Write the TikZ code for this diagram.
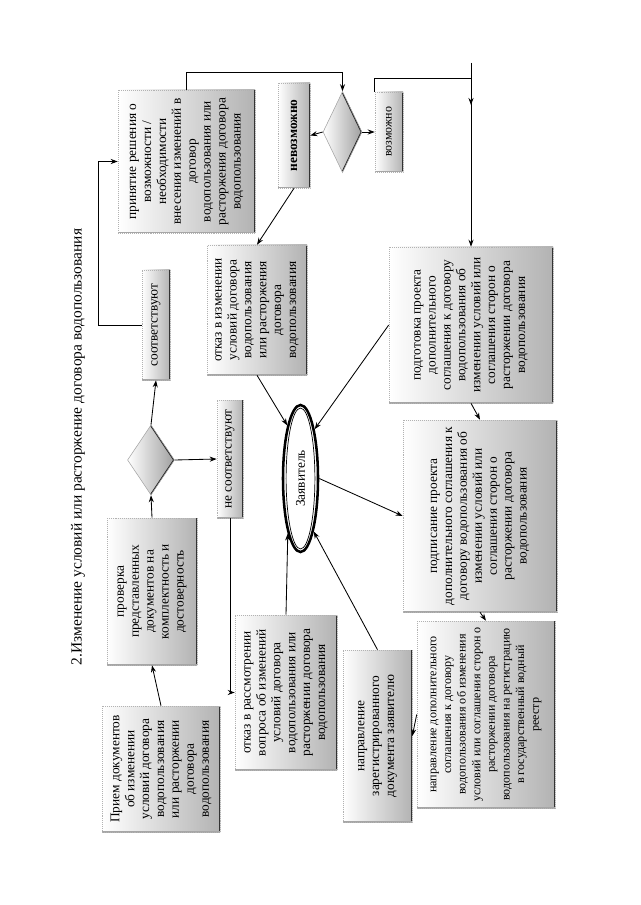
\documentclass[tikz,border=0pt]{standalone}
\usepackage{fontspec}
\setmainfont{Liberation Serif}
\usetikzlibrary{shapes.geometric, arrows.meta, positioning, calc}

\newcommand{\boxfont}{\fontsize{9.5}{10.6}\selectfont}
\newcommand{\smallboxfont}{\fontsize{8.6}{10.4}\selectfont}
\newcommand{\vtext}[2]{\rotatebox{90}{\parbox{#1}{\centering #2}}}

\tikzset{
  procbox/.style 2 args={draw=gray!60, densely dotted,
    left color=white, right color=gray!60,
    inner sep=0pt, minimum width=#1*0.025cm, minimum height=#2*0.025cm,
    font=\boxfont,
    path picture={
      \draw[solid, line width=2pt, black!80]
        (path picture bounding box.north east) -- (path picture bounding box.south east);
      \draw[solid, line width=1pt, gray!70]
        (path picture bounding box.south west) -- (path picture bounding box.south east);}},
  decision/.style 2 args={diamond, draw=gray!70,
    left color=white, right color=gray!75,
    inner sep=0pt, minimum width=#1*0.025cm, minimum height=#2*0.025cm,
    path picture={
      \draw[line width=1.6pt, black!85]
        (path picture bounding box.north) -- (path picture bounding box.east)
        -- (path picture bounding box.south);}},
  applicant/.style={ellipse, draw, line width=1.8pt, fill=white,
    inner sep=0pt, minimum width=35*0.025cm, minimum height=147*0.025cm,
    font=\boxfont,
    path picture={
      \draw[line width=0.5pt] (path picture bounding box.center)
        ellipse [x radius=0.36cm, y radius=1.76cm];}},
  flow/.style={-{Stealth[length=5pt, width=3.6pt]}, line width=0.6pt},
  link/.style={line width=0.6pt}
}

\begin{document}
\begin{tikzpicture}[x=0.025cm, y=-0.025cm]
  \useasboundingbox (0,0) rectangle (640,905);

  % title
  \node (title) at (78,447)
    {\rotatebox{90}{\fontsize{11}{13}\selectfont 2.Изменение условий или расторжение договора водопользования}};

  % left column
  \node[procbox={118}{126}] (priem) at (161,769)
    {\vtext{3.0cm}{Прием документов\\ об изменении\\ условий договора\\ водопользования\\ или расторжении\\ договора\\ водопользования}};
  \node[procbox={90}{147}] (prov) at (152,591.5)
    {\vtext{3.4cm}{проверка\\ представленных\\ документов на\\ комплектность и\\ достоверность}};
  \node[decision={47}{70}] (dec1) at (151,460) {};
  \node[procbox={26}{118}] (nesoot) at (230,459)
    {\vtext{2.8cm}{не соответствуют}};
  \node[procbox={28}{110}] (soot) at (156,325)
    {\vtext{2.6cm}{соответствуют}};
  \node[procbox={137}{143}] (prinyatie) at (186.5,161.5)
    {\vtext{3.5cm}{принятие решения о\\ возможности /\\ необходимости\\ внесения изменений в\\ договор\\ водопользования или\\ расторжения договора\\ водопользования}};

  % decision on the top
  \node[decision={39}{81}] (dec2) at (342.5,132) {};
  \node[procbox={32}{105}] (nevoz) at (294,135.5)
    {\vtext{2.5cm}{\bfseries невозможно}};
  \node[procbox={28}{80}] (voz) at (389,132)
    {\vtext{1.9cm}{\fontsize{8.5}{9}\selectfont возможно}};
  \node[procbox={100}{130}] (otkaz1) at (257,310)
    {\vtext{3.1cm}{отказ в изменении\\ условий договора\\ водопользования\\ или расторжения\\ договора\\ водопользования}};

  % applicant
  \node[applicant] (zayav) at (300.5,478.5) {\rotatebox{90}{Заявитель}};

  \node[procbox={102}{155}] (otkaz2) at (286,692.5)
    {\vtext{3.8cm}{отказ в рассмотрении\\ вопроса об изменений\\ условий договора\\ водопользования или\\ расторжении договора\\ водопользования}};
  \node[procbox={69}{172}] (naprzar) at (377.5,736)
    {\vtext{4.2cm}{направление\\ зарегистрированного\\ документа заявителю}};

  % right column
  \node[procbox={164}{156}] (podgot) at (471,325)
    {\vtext{3.8cm}{подготовка проекта\\ дополнительного\\ соглашения к договору\\ водопользования об\\ изменении условий или\\ соглашения сторон о\\ расторжении договора\\ водопользования}};
  \node[procbox={154}{192}] (podpis) at (480,516)
    {\vtext{4.7cm}{подписание проекта\\ дополнительного соглашения к\\ договору водопользования об\\ изменении условий или\\ соглашения сторон о\\ расторжении договора\\ водопользования}};
  \node[procbox={138}{187}, font=\smallboxfont] (naprreg) at (486,714.5)
    {\vtext{4.5cm}{направление дополнительного\\ соглашения к договору\\ водопользования об изменения\\ условий или соглашения сторон о\\ расторжении договора\\ водопользования на регистрацию\\ в государственный водный\\ реестр}};

  \coordinate (vtop) at (471,63);
  \coordinate (vjoin) at (471,78);

  % connectors
  \draw[flow] (priem.north) -- (prov.south);
  \draw[flow] (prov.north) -- (dec1.south);
  \draw[flow] (dec1.north) -- (soot.south);
  \draw[flow] (dec1.east) -- (nesoot.west);
  \draw[flow] (soot.west) -- ++(-43,0) |- (prinyatie.west);
  \draw[flow] (prinyatie.north) -- ++(0,-17) -| (dec2.north);
  \draw[flow] (dec2.west) -- (nevoz.east);
  \draw[flow] (dec2.east) -- (voz.west);
  \draw[link] (voz.north west) |- (vjoin);
  \draw[flow] (vtop) -- ++(0,42);
  \draw[flow] (vtop) -- (podgot.north);
  \draw[flow] (nevoz.south) -- (otkaz1.north);
  \draw[flow] (nesoot.south) |- (otkaz2.west);

  % around the applicant
  \draw[flow] (otkaz1.south) -- (zayav.104);
  \draw[flow] (podgot.west) -- (zayav.74);
  \draw[flow] (zayav.east) -- (podpis.west);
  \draw[flow] (otkaz2.north) -- (zayav.257);
  \draw[flow] (naprzar.north) -- (zayav.284);

  \draw[flow] (podgot.south) -- (podpis.north);
  \draw[flow] (podpis.south) -- (naprreg.north);
  \draw[flow] (naprreg.west) -- (naprzar.east);

\end{tikzpicture}
\end{document}
